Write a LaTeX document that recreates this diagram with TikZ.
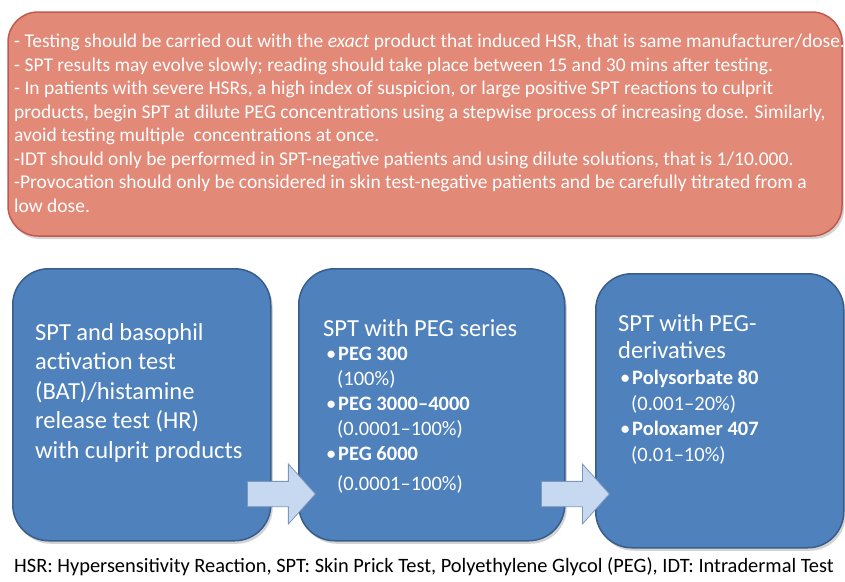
\documentclass[tikz,border=0pt]{standalone}
\usepackage{fontspec}
\setmainfont{Carlito}
\usetikzlibrary{shapes.arrows,shadows}
\definecolor{notefill}{RGB}{226,137,120}
\definecolor{noteedge}{RGB}{192,90,80}
\definecolor{stepfill}{RGB}{79,129,189}
\definecolor{stepedge}{RGB}{56,93,138}
\definecolor{arrowfill}{RGB}{198,217,241}
\definecolor{arrowedge}{RGB}{125,150,185}
\tikzset{
  notebox/.style={draw=noteedge,fill=notefill,line width=1.5pt,rounded corners=30pt,
    drop shadow={shadow xshift=2pt,shadow yshift=-3pt,opacity=.35}},
  stepbox/.style={draw=stepedge,fill=stepfill,line width=1.5pt,rounded corners=36pt,
    drop shadow={shadow xshift=2pt,shadow yshift=-3pt,opacity=.35}},
  steptext/.style={text=white,align=left,anchor=north west,inner sep=0pt},
  blockarrow/.style={single arrow,draw=arrowedge,fill=arrowfill,line width=.8pt,
    minimum height=68pt,minimum width=60pt,inner sep=12pt,
    single arrow head extend=17pt,single arrow tip angle=96,anchor=west}
}
\begin{document}
\begin{tikzpicture}[x=1pt,y=-1pt]
\useasboundingbox (0,0) rectangle (845,581);
% testing advice
\draw[notebox] (8,12) rectangle (842,236);
\node[steptext,font=\fontsize{19.5}{23.5}\selectfont] (advice) at (14,34) {%
- Testing should be carried out with the \emph{exact} product that induced HSR, that is same manufacturer/dose.\\
- SPT results may evolve slowly; reading should take place between 15 and 30 mins after testing.\\
- In patients with severe HSRs, a high index of suspicion, or large positive SPT reactions to culprit\\
products, begin SPT at dilute PEG concentrations using a stepwise process of increasing dose. Similarly,\\
avoid testing multiple\ \ concentrations at once.\\
-IDT should only be performed in SPT-negative patients and using dilute solutions, that is 1/10.000.\\
-Provocation should only be considered in skin test-negative patients and be carefully titrated from a\\
low dose.};
% three steps
\node[stepbox,minimum width=258pt,minimum height=272pt,anchor=north west] (test1) at (12,268) {};
\node[stepbox,minimum width=266pt,minimum height=272pt,anchor=north west] (test2) at (298,268) {};
\node[stepbox,minimum width=248pt,minimum height=274pt,anchor=north west] (test3) at (595,273) {};
\node[steptext,font=\fontsize{24.5}{29.5}\selectfont] (test1txt) at (35,323) {%
SPT and basophil\\activation test\\(BAT)/histamine\\release test (HR)\\with culprit products};
\node[steptext,font=\fontsize{24.5}{27}\selectfont] (test2head) at (323,319) {SPT with PEG series};
\node[steptext,font=\fontsize{20.5}{25}\selectfont] (test2list) at (326,347) {%
\makebox[12pt][l]{•}\textbf{PEG 300}\\
\hspace*{11pt}(100\%)\\
\makebox[12pt][l]{•}\textbf{PEG 3000–4000}\\
\hspace*{11pt}(0.0001–100\%)\\
\makebox[12pt][l]{•}\textbf{PEG 6000}\\[5pt]
\hspace*{11pt}(0.0001–100\%)};
\node[steptext,font=\fontsize{24.5}{27}\selectfont] (test3head) at (618,314) {SPT with PEG-\\derivatives};
\node[steptext,font=\fontsize{20.5}{25.5}\selectfont] (test3list) at (620,370) {%
\makebox[12pt][l]{•}\textbf{Polysorbate 80}\\
\hspace*{11pt}(0.001–20\%)\\
\makebox[12pt][l]{•}\textbf{Poloxamer 407}\\
\hspace*{11pt}(0.01–10\%)};
% arrows between steps
\node[blockarrow] (arr1) at (247,494) {};
\node[blockarrow] (arr2) at (541,494) {};
% abbreviations
\node[anchor=base west,inner sep=0pt,font=\fontsize{20.4}{24}\selectfont] (abbr) at (14,572)
  {HSR: Hypersensitivity Reaction, SPT: Skin Prick Test, Polyethylene Glycol (PEG), IDT: Intradermal Test};
\end{tikzpicture}
\end{document}
